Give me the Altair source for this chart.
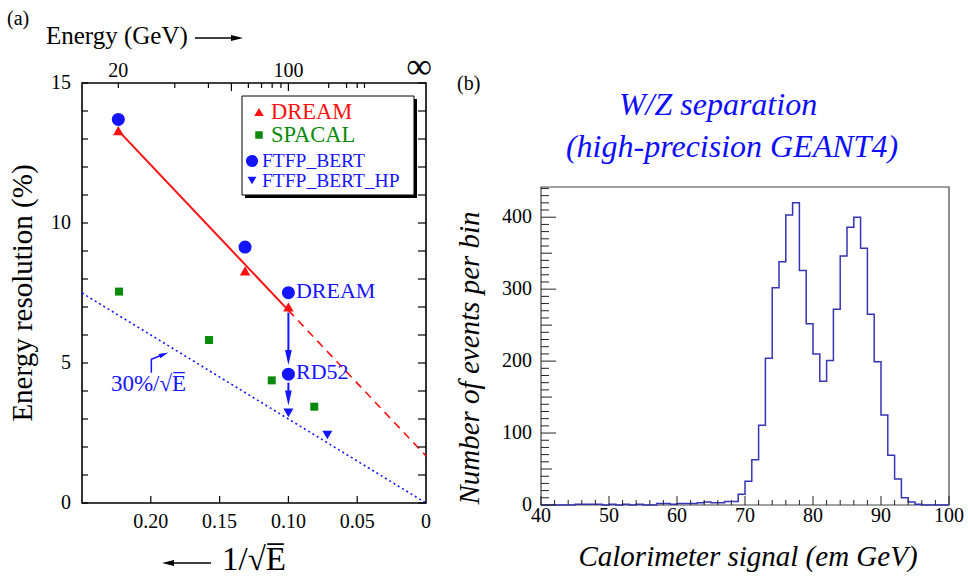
import altair as alt
import pandas as pd

SERIF = "Liberation Serif"
RED = "#ff1010"
GREEN = "#0a8a0a"
BLUE = "#1414ff"
HIST = "#3535b5"

# ---------------- panel (a) data (x = 1/sqrt(E), y = resolution %) ----------------
dream_x = [0.2236, 0.1315, 0.1000]
dream_y = [13.30, 8.29, 7.00]
spacal_x = [0.2231, 0.1577, 0.1121, 0.0812]
spacal_y = [7.55, 5.82, 4.38, 3.44]
ftfp_x = [0.2236, 0.1315, 0.1000, 0.1000]
ftfp_y = [13.70, 9.14, 7.51, 4.60]
hp_x = [0.1000, 0.0717]
hp_y = [3.22, 2.43]
fit_solid_x = [0.2236, 0.1000]
fit_solid_y = [13.30, 6.88]
fit_dash_x = [0.1000, 0.0]
fit_dash_y = [6.88, 1.68]
stoch_x = [0.25, 0.0]
stoch_y = [7.50, 0.0]
arrow1_y = [6.80, 5.20]
arrow2_y = [4.30, 3.75]
annot_text = ["DREAM", "RD52"]
annot_x = [0.0945, 0.0945]
annot_y = [7.57, 4.68]
bent_x = [0.1996, 0.1996, 0.1905]
bent_y = [4.65, 5.13, 5.31]

top_E_minor = [20, 30, 40, 60, 70, 80, 90, 200, 300, 400, 500]
top_E_major = [50, 100]
top_label_x = [0.2236, 0.1000]
top_label_t = ["20", "100"]
x_label_vals = [0.20, 0.15, 0.10, 0.05, 0.0]
x_label_text = ["0.20", "0.15", "0.10", "0.05", "0"]
y_label_vals = [0, 5, 10, 15]
y_label_text = ["0", "5", "10", "15"]
x_ticks_a = [0.05, 0.10, 0.15, 0.20]
y_ticks_a = list(range(0, 16))

# ---------------- panel (b) data ----------------
bin_lo = list(range(40, 100))
counts = [0, 0, 0, 0, 0, 1, 1, 1, 1, 0,
          1, 0, 1, 0, 1, 0, 0, 2, 2, 1,
          2, 2, 2, 3, 4, 3, 3, 5, 5, 15,
          33, 63, 111, 204, 302, 338, 403, 420, 326, 252,
          210, 172, 201, 272, 346, 386, 400, 357, 265, 199,
          125, 69, 36, 10, 4, 1, 0, 0, 0, 0]
hx_label_vals = [40, 50, 60, 70, 80, 90, 100]
hy_label_vals = [0, 100, 200, 300, 400]
hy_major = [0, 100, 200, 300, 400]
hy_mid = [50, 150, 250, 350]
hy_minor = [v for v in range(10, 441, 10) if v % 50 != 0]
hx_major = list(range(40, 101, 10))
hx_minor = [v for v in range(42, 100, 2) if v % 10 != 0]

W1, H1 = 344, 420          # panel (a) plot area
W2, HR, HTOP = 408, 422, 104  # panel (b): column height, frame starts HTOP below top

xs = alt.Scale(domain=[0, 0.25], reverse=True, nice=False, zero=False)
ys = alt.Scale(domain=[0, 15], nice=False, zero=False)


def df(**cols):
    return pd.DataFrame(cols)


def X(field="x"):
    return alt.X(f"{field}:Q", scale=xs, axis=None)


def Y(field="y"):
    return alt.Y(f"{field}:Q", scale=ys, axis=None)


def txt(t, x, y, size, color="black", align="left", baseline="middle", **kw):
    return alt.Chart(df(t=[t])).mark_text(
        align=align, baseline=baseline, font=SERIF, fontSize=size, color=color, **kw
    ).encode(x=alt.value(x), y=alt.value(y), text="t:N")


one = df(t=[""])
layers_a = []
# 30%/sqrt(E) dotted line
layers_a.append(alt.Chart(df(x=stoch_x, y=stoch_y)).mark_line(
    color=BLUE, strokeDash=[2, 3], strokeWidth=1.6).encode(x=X(), y=Y()))
# red fit
layers_a.append(alt.Chart(df(x=fit_solid_x, y=fit_solid_y)).mark_line(
    color=RED, strokeWidth=2).encode(x=X(), y=Y()))
layers_a.append(alt.Chart(df(x=fit_dash_x, y=fit_dash_y)).mark_line(
    color=RED, strokeWidth=1.6, strokeDash=[8, 6]).encode(x=X(), y=Y()))
# arrows DREAM -> RD52 -> HP
layers_a.append(alt.Chart(df(x=[0.1], y=[arrow1_y[0]], y2=[arrow1_y[1]])).mark_rule(
    color=BLUE, strokeWidth=2).encode(x=X(), y=Y(), y2="y2:Q"))
layers_a.append(alt.Chart(df(x=[0.1], y=[arrow2_y[0]], y2=[arrow2_y[1]])).mark_rule(
    color=BLUE, strokeWidth=2).encode(x=X(), y=Y(), y2="y2:Q"))
HEAD_DOWN = "M-0.45,-1 L0,1 L0.45,-1 Z"
layers_a.append(alt.Chart(df(x=[0.1, 0.1], y=[arrow1_y[1], arrow2_y[1]])).mark_point(
    shape=HEAD_DOWN, filled=True, size=225, color=BLUE, opacity=1).encode(x=X(), y=Y()))
# bent arrow for 30%/sqrt(E)
layers_a.append(alt.Chart(df(x=bent_x, y=bent_y, o=[0, 1, 2])).mark_line(
    color=BLUE, strokeWidth=1.5).encode(x=X(), y=Y(), order="o:Q"))
HEAD_RIGHT = "M-1,-0.5 L1,0 L-1,0.5 Z"
layers_a.append(alt.Chart(df(x=[bent_x[-1]], y=[bent_y[-1]])).mark_point(
    shape=HEAD_RIGHT, filled=True, size=90, angle=338, color=BLUE, opacity=1).encode(x=X(), y=Y()))
# data points
layers_a.append(alt.Chart(df(x=spacal_x, y=spacal_y)).mark_point(
    shape="square", filled=True, size=64, color=GREEN, opacity=1).encode(x=X(), y=Y()))
layers_a.append(alt.Chart(df(x=ftfp_x, y=ftfp_y)).mark_point(
    shape="circle", filled=True, size=170, color=BLUE, opacity=1).encode(x=X(), y=Y()))
layers_a.append(alt.Chart(df(x=dream_x, y=dream_y)).mark_point(
    shape="triangle-up", filled=True, size=110, color=RED, opacity=1).encode(x=X(), y=Y()))
layers_a.append(alt.Chart(df(x=hp_x, y=hp_y)).mark_point(
    shape="triangle-down", filled=True, size=100, color=BLUE, opacity=1).encode(x=X(), y=Y()))
# annotations
layers_a.append(alt.Chart(df(x=annot_x, y=annot_y, t=annot_text)).mark_text(
    align="left", baseline="middle", font=SERIF, fontSize=22, color=BLUE).encode(
    x=X(), y=Y(), text="t:N"))
layers_a.append(alt.Chart(df(x=[0.229], y=[4.0], t=["30%/\u221aE\u0305"])).mark_text(
    align="left", baseline="alphabetic", font=SERIF, fontSize=23, color=BLUE).encode(
    x=X(), y=Y(), text="t:N"))

# frame ticks (inward)
layers_a.append(alt.Chart(df(y=y_ticks_a)).mark_rule(color="black", strokeWidth=1.2).encode(
    y=Y(), x=alt.value(0), x2=alt.value(6)))
layers_a.append(alt.Chart(df(y=y_ticks_a)).mark_rule(color="black", strokeWidth=1.2).encode(
    y=Y(), x=alt.value(W1), x2=alt.value(W1 - 8)))
layers_a.append(alt.Chart(df(x=x_ticks_a)).mark_rule(color="black", strokeWidth=1.2).encode(
    x=X(), y=alt.value(H1), y2=alt.value(H1 - 7)))
layers_a.append(alt.Chart(df(E=top_E_minor)).transform_calculate(x="1/sqrt(datum.E)").mark_rule(
    color="black", strokeWidth=1.2).encode(x=X(), y=alt.value(0), y2=alt.value(5)))
layers_a.append(alt.Chart(df(E=top_E_major)).transform_calculate(x="1/sqrt(datum.E)").mark_rule(
    color="black", strokeWidth=1.2).encode(x=X(), y=alt.value(0), y2=alt.value(8)))
# tick labels
layers_a.append(alt.Chart(df(x=x_label_vals, t=x_label_text)).mark_text(
    align="center", baseline="top", font=SERIF, fontSize=20, color="black").encode(
    x=X(), y=alt.value(H1 + 9), text="t:N"))
layers_a.append(alt.Chart(df(y=y_label_vals, t=y_label_text)).mark_text(
    align="right", baseline="middle", font=SERIF, fontSize=20, color="black").encode(
    y=Y(), x=alt.value(-11), text="t:N"))
layers_a.append(alt.Chart(df(x=top_label_x, t=top_label_t)).mark_text(
    align="center", baseline="alphabetic", font=SERIF, fontSize=20, color="black").encode(
    x=X(), y=alt.value(-6), text="t:N"))
layers_a.append(alt.Chart(df(x=[0.0], t=["\u221e"])).mark_text(
    align="center", baseline="alphabetic", font=SERIF, fontSize=36, color="black", dx=-7).encode(
    x=X(), y=alt.value(-5), text="t:N"))

# legend box
layers_a.append(alt.Chart(one).mark_rect(color="black").encode(
    x=alt.value(163), x2=alt.value(335), y=alt.value(16), y2=alt.value(115)))
layers_a.append(alt.Chart(one).mark_rect(fill="white", stroke="black", strokeWidth=1).encode(
    x=alt.value(160), x2=alt.value(332), y=alt.value(13), y2=alt.value(112)))


def legend_entry(label, shape, color, size, sx, sy, tx, fs):
    d = alt.Chart(df(t=[label]))
    return [
        d.mark_point(shape=shape, filled=True, size=size, color=color, opacity=1).encode(
            x=alt.value(sx), y=alt.value(sy)),
        d.mark_text(align="left", baseline="middle", font=SERIF, fontSize=fs, color=color).encode(
            x=alt.value(tx), y=alt.value(sy), text="t:N"),
    ]


layers_a += legend_entry("DREAM", "triangle-up", RED, 90, 177, 29, 189, 22.5)
layers_a += legend_entry("SPACAL", "square", GREEN, 56, 177, 52, 189, 22.5)
layers_a += legend_entry("FTFP_BERT", "circle", BLUE, 150, 170, 78, 180, 19.5)
layers_a += legend_entry("FTFP_BERT_HP", "triangle-down", BLUE, 80, 170, 97.5, 180, 19.5)

# outer texts
layers_a.append(txt("(a)", -75, -74, 20, baseline="top"))
layers_a.append(txt("Energy (GeV)", -36, -47, 25))
layers_a.append(alt.Chart(one).mark_rule(color="black", strokeWidth=1.5).encode(
    x=alt.value(113), x2=alt.value(152), y=alt.value(-45)))
layers_a.append(alt.Chart(one).mark_point(
    shape=HEAD_RIGHT, filled=True, size=144, color="black", opacity=1).encode(
    x=alt.value(155), y=alt.value(-45)))
layers_a.append(alt.Chart(one).mark_rule(color="black", strokeWidth=1.5).encode(
    x=alt.value(88), x2=alt.value(129), y=alt.value(480)))
layers_a.append(alt.Chart(one).mark_point(
    shape="M1,-0.5 L-1,0 L1,0.5 Z", filled=True, size=144, color="black", opacity=1).encode(
    x=alt.value(86), y=alt.value(480)))
layers_a.append(txt("1/\u221aE\u0305", 140, 477, 33))
layers_a.append(txt("Energy resolution (%)", -59, H1 / 2, 29, align="center", angle=270))

left = alt.layer(*layers_a).properties(
    width=W1, height=H1, view=alt.ViewBackground(stroke="black", strokeWidth=1.6))

# ---------------- panel (b) ----------------
hxs = alt.Scale(domain=[40, 100], nice=False, zero=False)
hys = alt.Scale(domain=[0, 442], nice=False, zero=False, range=[HR, HTOP])


def HX(field="x"):
    return alt.X(f"{field}:Q", scale=hxs, axis=None)


def HY(field="y"):
    return alt.Y(f"{field}:Q", scale=hys, axis=None)


hist_df = df(x=bin_lo + [100], y=counts + [counts[-1]])
layers_b = [
    alt.Chart(one).mark_rect(fill="white", stroke="#444444", strokeWidth=1.2).encode(
        x=alt.value(0), x2=alt.value(W2), y=alt.value(HTOP), y2=alt.value(HR)),
    alt.Chart(hist_df).mark_line(interpolate="step-after", color=HIST, strokeWidth=1.5).encode(
        x=HX(), y=HY()),
]
for vals, ln in ((hy_major, 15), (hy_mid, 11), (hy_minor, 8)):
    layers_b.append(alt.Chart(df(y=vals)).mark_rule(color="#222222", strokeWidth=1).encode(
        y=HY(), x=alt.value(0), x2=alt.value(ln)))
for vals, ln in ((hx_major, 9), (hx_minor, 5)):
    layers_b.append(alt.Chart(df(x=vals)).mark_rule(color="#222222", strokeWidth=1).encode(
        x=HX(), y=alt.value(HR), y2=alt.value(HR - ln)))
layers_b.append(alt.Chart(df(x=hx_label_vals, t=[str(v) for v in hx_label_vals])).mark_text(
    align="center", baseline="top", font=SERIF, fontSize=20, color="black").encode(
    x=HX(), y=alt.value(HR + 1), text="t:N"))
layers_b.append(alt.Chart(df(y=hy_label_vals, t=[str(v) for v in hy_label_vals])).mark_text(
    align="right", baseline="middle", font=SERIF, fontSize=20, color="black").encode(
    y=HY(), x=alt.value(-9), text="t:N"))
layers_b.append(txt("Calorimeter signal (em GeV)", 207, HR + 52, 29, align="center",
                    fontStyle="italic"))
layers_b.append(txt("Number of events per bin", -71, 275, 29, align="center",
                    angle=270, fontStyle="italic"))
layers_b.append(txt("(b)", -84, 1, 20))
layers_b.append(txt("W/Z separation", 177, 22, 32, color="#0d0dff", align="center",
                    fontStyle="italic"))
layers_b.append(txt("(high-precision GEANT4)", 191, 64, 32, color="#0d0dff", align="center",
                    fontStyle="italic"))

right = alt.layer(*layers_b).properties(
    width=W2, height=HR, view=alt.ViewBackground(stroke="transparent"))

chart = alt.hconcat(left, right, spacing=22).properties(
    padding={"left": 6, "top": 8, "right": 0, "bottom": 0},
    background="white",
).configure_view(stroke="transparent")

chart.save("out.html", embed_options={"renderer": "svg", "actions": False})
